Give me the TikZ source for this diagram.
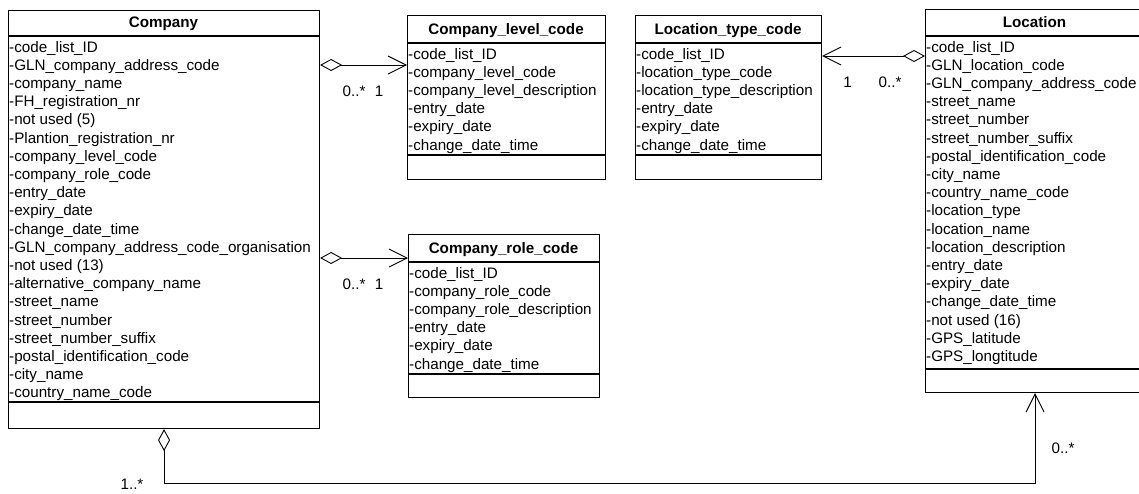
\documentclass[tikz,border=0pt]{standalone}
\usepackage{fontspec}
\setmainfont{Liberation Sans}
\usetikzlibrary{arrows.meta}
\begin{document}
\begin{tikzpicture}[x=1pt,y=-1pt,
  cls/.style={draw, line width=1.1pt, inner sep=0pt, anchor=north west},
  ttl/.style={font=\fontsize{15.2}{18}\selectfont\bfseries, anchor=base, inner sep=0pt},
  attr/.style={font=\fontsize{15.2}{18}\selectfont, anchor=base west, inner sep=0pt},
  lbl/.style={font=\fontsize{15.2}{18}\selectfont, anchor=base, inner sep=0pt},
  sepline/.style={line width=1.1pt},
  assoc/.style={line width=0.9pt, {Diamond[open,length=22pt,width=12pt]}-{Straight Barb[length=18pt,width=18pt]}},
]
\useasboundingbox (0,0) rectangle (1139,493);

% Company
\node[cls, minimum width=311pt, minimum height=418pt] (comp) at (8,10) {};
\draw[sepline] (8,36) -- (319,36);
\draw[sepline] (8,402) -- (319,402);
\node[ttl] (compT) at (163.5,27.5) {Company};
\foreach[count=\i] \t in {code\_list\_ID, GLN\_company\_address\_code, company\_name, FH\_registration\_nr, not used (5), Plantion\_registration\_nr, company\_level\_code, company\_role\_code, entry\_date, expiry\_date, change\_date\_time, GLN\_company\_address\_code\_organisation, not used (13), alternative\_company\_name, street\_name, street\_number, street\_number\_suffix, postal\_identification\_code, city\_name, country\_name\_code}
  \node[attr] (comp-\i) at (9,{52+18.2*(\i-1)}) {-\t};

% Company_level_code
\node[cls, minimum width=198pt, minimum height=164pt] (lvl) at (407,15) {};
\draw[sepline] (407,43) -- (605,43);
\draw[sepline] (407,155) -- (605,155);
\node[ttl] (lvlT) at (506,34.5) {Company\_level\_code};
\foreach[count=\i] \t in {code\_list\_ID, company\_level\_code, company\_level\_description, entry\_date, expiry\_date, change\_date\_time}
  \node[attr] (lvl-\i) at (408,{59+18.2*(\i-1)}) {-\t};

% Company_role_code
\node[cls, minimum width=191pt, minimum height=163pt] (role) at (408,234) {};
\draw[sepline] (408,262) -- (599,262);
\draw[sepline] (408,374) -- (599,374);
\node[ttl] (roleT) at (503.5,253.5) {Company\_role\_code};
\foreach[count=\i] \t in {code\_list\_ID, company\_role\_code, company\_role\_description, entry\_date, expiry\_date, change\_date\_time}
  \node[attr] (role-\i) at (409,{278+18.2*(\i-1)}) {-\t};

% Location_type_code
\node[cls, minimum width=186pt, minimum height=164pt] (ltc) at (635,15) {};
\draw[sepline] (635,43) -- (821,43);
\draw[sepline] (635,155) -- (821,155);
\node[ttl] (ltcT) at (728,34.5) {Location\_type\_code};
\foreach[count=\i] \t in {code\_list\_ID, location\_type\_code, location\_type\_description, entry\_date, expiry\_date, change\_date\_time}
  \node[attr] (ltc-\i) at (636,{59+18.2*(\i-1)}) {-\t};

% Location
\node[cls, minimum width=219pt, minimum height=383pt] (loc) at (925,9) {};
\draw[sepline] (925,36) -- (1144,36);
\draw[sepline] (925,369) -- (1144,369);
\node[ttl] (locT) at (1034.5,27.5) {Location};
\foreach[count=\i] \t in {code\_list\_ID, GLN\_location\_code, GLN\_company\_address\_code, street\_name, street\_number, street\_number\_suffix, postal\_identification\_code, city\_name, country\_name\_code, location\_type, location\_name, location\_description, entry\_date, expiry\_date, change\_date\_time, not used (16), GPS\_latitude, GPS\_longtitude}
  \node[attr] (loc-\i) at (926,{52+18.2*(\i-1)}) {-\t};

% connectors
\coordinate (y1) at (0,65);
\coordinate (y2) at (0,258);
\coordinate (y3) at (0,56);
\coordinate (y4) at (0,483);
\draw[assoc] (comp.east |- y1) -- (lvl.west |- y1);
\draw[assoc] (comp.east |- y2) -- (role.west |- y2);
\draw[assoc] (loc.west |- y3) -- (ltc.east |- y3);
\draw[line width=0.9pt, {Diamond[open,length=22pt,width=12pt]}-{Straight Barb[length=18pt,width=18pt]}]
  (comp.south) -- (comp.south |- y4) -- (loc.south |- y4) -- (loc.south);

% multiplicities
\node[lbl] (m1a) at (354,96) {0..*};
\node[lbl] (m1b) at (379,96) {1};
\node[lbl] (m2a) at (354,289) {0..*};
\node[lbl] (m2b) at (379,289) {1};
\node[lbl] (m3a) at (847.5,87) {1};
\node[lbl] (m3b) at (890,87) {0..*};
\node[lbl] (m4a) at (132,489) {1..*};
\node[lbl] (m4b) at (1063,453) {0..*};
\end{tikzpicture}
\end{document}
